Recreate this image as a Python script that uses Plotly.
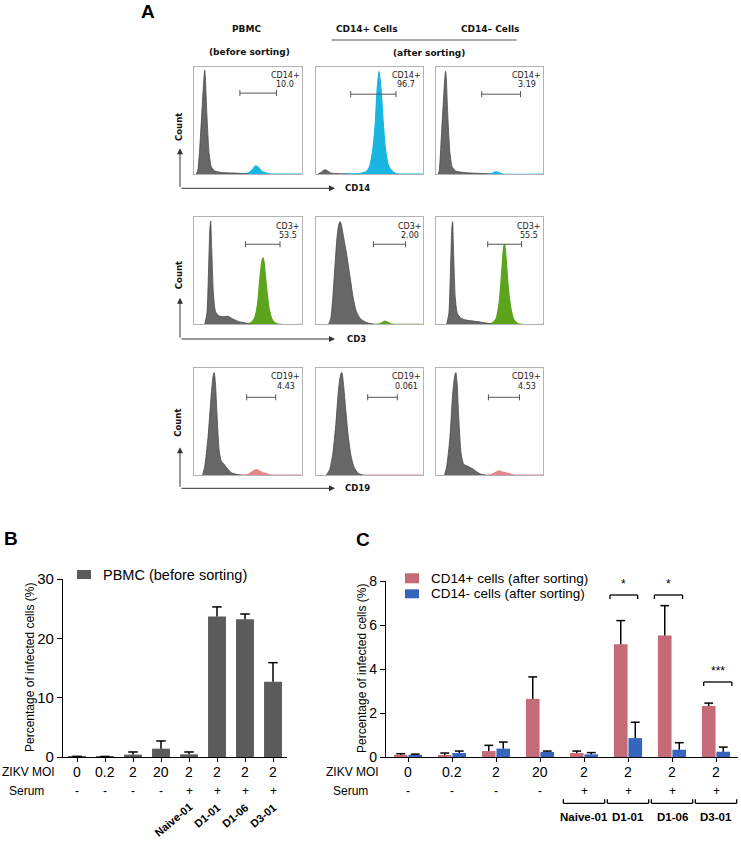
import plotly.graph_objects as go

W, H = 741, 842


def px(x):
    return x / W


def py(y):
    return 1 - y / H


# ---------------- data: panel B / C ----------------
MOI = ["0", "0.2", "2", "20", "2", "2", "2", "2"]
SERUM = ["-", "-", "-", "-", "+", "+", "+", "+"]
DONORS = ["Naive-01", "D1-01", "D1-06", "D3-01"]
DONOR_CATS = [4, 5, 6, 7]
PBMC_MEAN = [0.08, 0.06, 0.4, 1.4, 0.45, 23.7, 23.2, 12.7]
PBMC_ERR = [0.03, 0.03, 0.45, 1.3, 0.4, 1.6, 0.9, 3.2]
CD14P_MEAN = [0.1, 0.08, 0.27, 2.64, 0.18, 5.12, 5.52, 2.32]
CD14P_ERR = [0.05, 0.1, 0.26, 1.0, 0.09, 1.08, 1.36, 0.13]
CD14N_MEAN = [0.1, 0.18, 0.38, 0.23, 0.12, 0.86, 0.33, 0.24]
CD14N_ERR = [0.03, 0.09, 0.3, 0.04, 0.08, 0.72, 0.32, 0.21]
SIG_CATS = [5, 6, 7]
SIG_TEXT = ["*", "*", "***"]

# ---------------- data: panel A (histograms, normalized) ----------------
ROW_MARKERS = ["CD14", "CD3", "CD19"]
GATE_NAMES = ["CD14+", "CD3+", "CD19+"]
GATE_VALUES = [["10.0", "96.7", "3.19"], ["53.5", "2.00", "55.5"], ["4.43", "0.061", "4.53"]]

CD14_PBMC_GRAY_X = [0.02, 0.035, 0.06, 0.08, 0.095, 0.10, 0.106, 0.12, 0.14, 0.16, 0.19, 0.25, 0.35, 0.45, 0.5]
CD14_PBMC_GRAY_Y = [0, 0.03, 0.35, 0.7, 0.93, 0.97, 0.9, 0.55, 0.2, 0.07, 0.03, 0.015, 0.01, 0.005, 0]
CD14_PBMC_POS_X = [0.15, 0.45, 0.5, 0.54, 0.565, 0.58, 0.6, 0.63, 0.67, 0.72, 1.0]
CD14_PBMC_POS_Y = [0, 0, 0.008, 0.035, 0.07, 0.075, 0.06, 0.025, 0.008, 0, 0]

CD14_POS_GRAY_X = [0.02, 0.05, 0.075, 0.093, 0.11, 0.14, 0.2, 0.3]
CD14_POS_GRAY_Y = [0, 0.015, 0.035, 0.04, 0.03, 0.01, 0.004, 0]
CD14_POS_POS_X = [0.25, 0.42, 0.47, 0.5, 0.53, 0.555, 0.575, 0.592, 0.61, 0.63, 0.65, 0.68, 0.71, 0.75, 1.0]
CD14_POS_POS_Y = [0, 0.005, 0.02, 0.06, 0.2, 0.45, 0.8, 0.96, 0.8, 0.5, 0.25, 0.08, 0.03, 0.005, 0]

CD14_NEG_GRAY_X = [0.02, 0.03, 0.05, 0.07, 0.085, 0.09, 0.096, 0.11, 0.13, 0.15, 0.18, 0.25, 0.35, 0.45, 0.5]
CD14_NEG_GRAY_Y = [0, 0.03, 0.35, 0.7, 0.93, 0.96, 0.9, 0.55, 0.2, 0.07, 0.03, 0.015, 0.008, 0.004, 0]
CD14_NEG_POS_X = [0.15, 0.48, 0.52, 0.55, 0.565, 0.59, 0.63, 1.0]
CD14_NEG_POS_Y = [0, 0, 0.005, 0.018, 0.02, 0.012, 0, 0]

CD3_PBMC_GRAY_X = [0.10, 0.12, 0.135, 0.148, 0.155, 0.165, 0.18, 0.2, 0.23, 0.27, 0.317, 0.36, 0.42, 0.49, 0.53]
CD3_PBMC_GRAY_Y = [0, 0.1, 0.5, 0.9, 0.966, 0.7, 0.3, 0.12, 0.08, 0.07, 0.075, 0.05, 0.025, 0.01, 0]
CD3_PBMC_POS_X = [0.4, 0.52, 0.56, 0.59, 0.615, 0.633, 0.645, 0.66, 0.68, 0.7, 0.73, 0.77, 1.0]
CD3_PBMC_POS_Y = [0, 0.01, 0.05, 0.18, 0.45, 0.6, 0.62, 0.5, 0.3, 0.14, 0.04, 0.005, 0]

CD3_POS_GRAY_X = [0.12, 0.14, 0.16, 0.18, 0.2, 0.215, 0.228, 0.24, 0.26, 0.29, 0.32, 0.35, 0.38, 0.42, 0.48, 0.55]
CD3_POS_GRAY_Y = [0, 0.05, 0.25, 0.55, 0.82, 0.93, 0.96, 0.93, 0.82, 0.65, 0.45, 0.25, 0.12, 0.05, 0.015, 0]
CD3_POS_POS_X = [0.5, 0.6, 0.63, 0.648, 0.67, 0.7, 0.75, 1.0]
CD3_POS_POS_Y = [0, 0.005, 0.022, 0.03, 0.02, 0.005, 0, 0]

CD3_NEG_GRAY_X = [0.10, 0.12, 0.135, 0.148, 0.155, 0.165, 0.18, 0.2, 0.23, 0.28, 0.35, 0.42, 0.48, 0.52]
CD3_NEG_GRAY_Y = [0, 0.1, 0.5, 0.9, 0.96, 0.65, 0.25, 0.1, 0.06, 0.04, 0.03, 0.02, 0.01, 0]
CD3_NEG_POS_X = [0.4, 0.52, 0.56, 0.59, 0.615, 0.632, 0.642, 0.655, 0.675, 0.7, 0.73, 0.77, 1.0]
CD3_NEG_POS_Y = [0, 0.01, 0.05, 0.2, 0.5, 0.72, 0.75, 0.62, 0.35, 0.15, 0.04, 0.005, 0]

CD19_PBMC_GRAY_X = [0.08, 0.1, 0.13, 0.16, 0.178, 0.188, 0.2, 0.215, 0.235, 0.255, 0.28, 0.31, 0.35, 0.4, 0.44]
CD19_PBMC_GRAY_Y = [0, 0.08, 0.35, 0.75, 0.93, 0.96, 0.85, 0.55, 0.22, 0.13, 0.1, 0.06, 0.02, 0.005, 0]
CD19_PBMC_POS_X = [0.4, 0.5, 0.54, 0.58, 0.61, 0.64, 0.68, 0.72, 1.0]
CD19_PBMC_POS_Y = [0, 0.005, 0.03, 0.05, 0.035, 0.02, 0.01, 0, 0]

CD19_POS_GRAY_X = [0.1, 0.13, 0.16, 0.19, 0.215, 0.235, 0.245, 0.26, 0.28, 0.3, 0.33, 0.36, 0.4, 0.44]
CD19_POS_GRAY_Y = [0, 0.05, 0.2, 0.5, 0.82, 0.95, 0.96, 0.85, 0.62, 0.4, 0.18, 0.07, 0.015, 0]
CD19_POS_POS_X = [0.4, 1.0]
CD19_POS_POS_Y = [0, 0]

CD19_NEG_GRAY_X = [0.08, 0.1, 0.13, 0.155, 0.175, 0.186, 0.198, 0.212, 0.235, 0.26, 0.3, 0.34, 0.38, 0.42, 0.46]
CD19_NEG_GRAY_Y = [0, 0.08, 0.35, 0.75, 0.93, 0.96, 0.85, 0.55, 0.2, 0.1, 0.08, 0.06, 0.03, 0.008, 0]
CD19_NEG_POS_X = [0.4, 0.52, 0.56, 0.59, 0.62, 0.65, 0.7, 0.74, 1.0]
CD19_NEG_POS_Y = [0, 0.005, 0.025, 0.04, 0.028, 0.02, 0.008, 0, 0]

HIST_GRID = [
    [(CD14_PBMC_GRAY_X, CD14_PBMC_GRAY_Y, CD14_PBMC_POS_X, CD14_PBMC_POS_Y),
     (CD14_POS_GRAY_X, CD14_POS_GRAY_Y, CD14_POS_POS_X, CD14_POS_POS_Y),
     (CD14_NEG_GRAY_X, CD14_NEG_GRAY_Y, CD14_NEG_POS_X, CD14_NEG_POS_Y)],
    [(CD3_PBMC_GRAY_X, CD3_PBMC_GRAY_Y, CD3_PBMC_POS_X, CD3_PBMC_POS_Y),
     (CD3_POS_GRAY_X, CD3_POS_GRAY_Y, CD3_POS_POS_X, CD3_POS_POS_Y),
     (CD3_NEG_GRAY_X, CD3_NEG_GRAY_Y, CD3_NEG_POS_X, CD3_NEG_POS_Y)],
    [(CD19_PBMC_GRAY_X, CD19_PBMC_GRAY_Y, CD19_PBMC_POS_X, CD19_PBMC_POS_Y),
     (CD19_POS_GRAY_X, CD19_POS_GRAY_Y, CD19_POS_POS_X, CD19_POS_POS_Y),
     (CD19_NEG_GRAY_X, CD19_NEG_GRAY_Y, CD19_NEG_POS_X, CD19_NEG_POS_Y)],
]

# ---------------- styles / layout constants ----------------
ROW_COLORS = ["#1ab6e2", "#5ca41c", "#e8858a"]
GRAY_FILL = "#676767"
GRAY_LINE = "#4a4a4a"
BOX_COL_X = [(194, 301.5), (315.7, 422.7), (436, 543)]
BOX_ROW_Y = [(67, 174), (217.3, 324.3), (368.3, 475)]
GATE_POS = [[(0.427, 0.768, 0.756), (0.327, 0.75, 0.746), (0.427, 0.79, 0.746)],
            [(0.48, 0.80, 0.748), (0.54, 0.84, 0.748), (0.483, 0.80, 0.748)],
            [(0.49, 0.76, 0.728), (0.486, 0.763, 0.728), (0.49, 0.78, 0.728)]]
GATE_LABEL_X = [[0.85, 0.845, 0.85], [0.876, 0.88, 0.87], [0.854, 0.85, 0.85]]
GATE_LABEL_Y = [(0.918, 0.834), (0.913, 0.829), (0.92, 0.834)]
ROW_ARROW = [(148.3, 188.3, 127.5), (297.7, 339, 275.7), (447.3, 488.3, 423.3)]
ROW_LABEL_X = [357.5, 356.7, 357]

SANS = "Arial, Liberation Sans, sans-serif"
DJV = "DejaVu Sans, Verdana, sans-serif"

fig = go.Figure()
layout = dict(
    template="none",
    width=W, height=H, margin=dict(l=0, r=0, t=0, b=0, pad=0, autoexpand=False),
    paper_bgcolor="white", plot_bgcolor="rgba(0,0,0,0)",
    showlegend=False,
)
annotations = []
shapes = []


def ann(x, y, text, size, family=SANS, xref="paper", yref="paper", **kw):
    d = dict(xref=xref, yref=yref, x=x, y=y, text=text, showarrow=False,
             xanchor="center", yanchor="middle",
             font=dict(family=family, size=size, color=kw.pop("color", "#000")))
    d.update(kw)
    annotations.append(d)


# ---------------- Panel A ----------------
k = 0
for r in range(3):
    for c in range(3):
        k += 1
        xa = "xaxis" if k == 1 else f"xaxis{k}"
        ya = "yaxis" if k == 1 else f"yaxis{k}"
        xr = "x" if k == 1 else f"x{k}"
        yr = "y" if k == 1 else f"y{k}"
        x0, x1 = BOX_COL_X[c]
        y0, y1 = BOX_ROW_Y[r]
        box_axis = dict(range=[0, 1], showticklabels=False, ticks="", showgrid=False,
                        zeroline=False, automargin=False, showline=True, mirror=True,
                        linecolor="#b3b3b3", linewidth=1)
        layout[xa] = dict(domain=[px(x0), px(x1)], anchor=yr, **box_axis)
        layout[ya] = dict(domain=[py(y1), py(y0)], anchor=xr, **box_axis)
        gx, gy, cx, cy = HIST_GRID[r][c]
        fig.add_trace(go.Scatter(x=cx, y=cy, xaxis=xr, yaxis=yr, mode="lines",
                                 line=dict(color=ROW_COLORS[r], width=1.2, shape="spline", smoothing=0.6),
                                 fill="tozeroy", fillcolor=ROW_COLORS[r], hoverinfo="skip"))
        fig.add_trace(go.Scatter(x=gx, y=gy, xaxis=xr, yaxis=yr, mode="lines",
                                 line=dict(color=GRAY_LINE, width=0.8, shape="spline", smoothing=0.6),
                                 fill="tozeroy", fillcolor=GRAY_FILL, hoverinfo="skip"))
        gx0, gx1, gyy = GATE_POS[r][c]
        gl = dict(color="#555", width=1)
        shapes.append(dict(type="line", xref=xr, yref=yr, x0=gx0, x1=gx1, y0=gyy, y1=gyy, line=gl))
        for gxe in (gx0, gx1):
            shapes.append(dict(type="line", xref=xr, yref=yr, x0=gxe, x1=gxe,
                               y0=gyy - 0.028, y1=gyy + 0.028, line=gl))
        ann(GATE_LABEL_X[r][c], GATE_LABEL_Y[r][0], GATE_NAMES[r], 8, DJV, xref=xr, yref=yr, color="#222")
        ann(GATE_LABEL_X[r][c], GATE_LABEL_Y[r][1], GATE_VALUES[r][c], 8, DJV, xref=xr, yref=yr, color="#222")
    # axis arrows
    ytop, ybase, ycount = ROW_ARROW[r]
    annotations.append(dict(xref="paper", yref="paper", x=px(335), y=py(ybase), ax=-155, ay=0,
                            text="", showarrow=True, arrowhead=2, arrowsize=1.2, arrowwidth=1,
                            arrowcolor="#333"))
    annotations.append(dict(xref="paper", yref="paper", x=px(180), y=py(ytop), ax=0, ay=ybase - ytop,
                            text="", showarrow=True, arrowhead=2, arrowsize=1.2, arrowwidth=1,
                            arrowcolor="#333"))
    ann(px(ROW_LABEL_X[r]), py(ybase), f"<b>{ROW_MARKERS[r]}</b>", 8.5, DJV, color="#111")
    ann(px(178.5), py(ycount), "<b>Count</b>", 8.5, DJV, color="#111", textangle=-90)

# headers
for txt, x, y in [("PBMC", 246, 29.3), ("(before sorting)", 249, 51.7),
                  ("CD14+ Cells", 366.7, 29.3), ("CD14\u2013 Cells", 489.7, 29.3),
                  ("(after sorting)", 428.8, 53.3)]:
    ann(px(x), py(y), f"<b>{txt}</b>", 9, DJV, color="#111")
shapes.append(dict(type="line", xref="paper", yref="paper", x0=px(331.7), x1=px(516.7),
                   y0=py(40), y1=py(40), line=dict(color="#555", width=1)))

# panel letters
for txt, x, y in [("A", 147.5, 11), ("B", 11, 538.5), ("C", 362.5, 539)]:
    ann(px(x), py(y), f"<b>{txt}</b>", 19)

# ---------------- Panel B ----------------
xb, yb = "x10", "y10"
cats = list(range(len(MOI)))
axis_common = dict(showgrid=False, zeroline=False, showline=True, linecolor="#000", linewidth=1.3,
                   ticks="outside", tickcolor="#000", tickwidth=1.3, automargin=False)
layout["xaxis10"] = dict(domain=[px(63), px(287)], range=[-0.5, 7.5], anchor=yb,
                         tickvals=cats, showticklabels=False, ticklen=4, **axis_common)
layout["yaxis10"] = dict(domain=[py(757), py(579)], range=[0, 30], anchor=xb,
                         tickvals=[0, 10, 20, 30], ticklen=5,
                         tickfont=dict(family=SANS, size=15, color="#000"), **axis_common)
fig.add_trace(go.Bar(x=cats, y=PBMC_MEAN, width=0.64, xaxis=xb, yaxis=yb,
                     marker=dict(color="#5b5b5b", line=dict(width=0))))


def err_lines(mean, err, off, cap):
    xs, ys = [], []
    for i, (m, e) in enumerate(zip(mean, err)):
        xc = i + off
        xs += [xc, xc, None, xc - cap, xc + cap, None]
        ys += [m, m + e, None, m + e, m + e, None]
    return xs, ys


ex, ey = err_lines(PBMC_MEAN, PBMC_ERR, 0.0, 0.17)
fig.add_trace(go.Scatter(x=ex, y=ey, xaxis=xb, yaxis=yb, mode="lines",
                         line=dict(color="#000", width=1.5), hoverinfo="skip"))

for i, m in enumerate(MOI):
    ann(i, py(772), m, 14, xref=xb)
    ann(i, py(791), SERUM[i], 12, xref=xb)
for d, cidx in zip(DONORS, DONOR_CATS):
    shift = -16 if d.startswith("Naive") else -10.5
    yc = 820 if d.startswith("Naive") else 815.5
    ann(cidx, py(yc), f"<b>{d}</b>", 11, xref=xb, xshift=shift, textangle=-40)
ann(px(28), py(772), "ZIKV MOI", 12)
ann(px(26), py(791), "Serum", 12)
ann(px(30), py(668), "Percentage of infected cells (%)", 12, textangle=-90)
# legend B
shapes.append(dict(type="rect", xref="paper", yref="paper", x0=px(77), x1=px(91), y0=py(579),
                   y1=py(570), fillcolor="#5b5b5b", line=dict(width=0)))
ann(px(101), py(574.5), "PBMC (before sorting)", 14.5, xanchor="left")

# ---------------- Panel C ----------------
xc_, yc_ = "x11", "y11"
RED, BLUE = "#c56b78", "#3565bd"
layout["xaxis11"] = dict(domain=[px(386), px(738)], range=[-0.5, 7.5], anchor=yc_,
                         tickvals=cats, showticklabels=False, ticklen=4, **axis_common)
layout["yaxis11"] = dict(domain=[py(757), py(581)], range=[0, 8], anchor=xc_,
                         tickvals=[0, 2, 4, 6, 8], ticklen=5,
                         tickfont=dict(family=SANS, size=14, color="#000"), **axis_common)
OFF = 0.165
fig.add_trace(go.Bar(x=[i - OFF for i in cats], y=CD14P_MEAN, width=0.31, xaxis=xc_, yaxis=yc_,
                     marker=dict(color=RED, line=dict(width=0))))
fig.add_trace(go.Bar(x=[i + OFF for i in cats], y=CD14N_MEAN, width=0.31, xaxis=xc_, yaxis=yc_,
                     marker=dict(color=BLUE, line=dict(width=0))))
for mean, err, off in [(CD14P_MEAN, CD14P_ERR, -OFF), (CD14N_MEAN, CD14N_ERR, OFF)]:
    ex, ey = err_lines(mean, err, off, 0.1)
    fig.add_trace(go.Scatter(x=ex, y=ey, xaxis=xc_, yaxis=yc_, mode="lines",
                             line=dict(color="#000", width=1.5), hoverinfo="skip"))

for i, m in enumerate(MOI):
    ann(i, py(772), m, 14, xref=xc_)
    ann(i, py(791), SERUM[i], 12, xref=xc_)
ann(px(352), py(772), "ZIKV MOI", 12)
ann(px(350), py(791), "Serum", 12)
ann(px(362), py(669), "Percentage of infected cells (%)", 12, textangle=-90)
# donor group brackets
bl = dict(color="#000", width=1.3)
for d, cidx in zip(DONORS, DONOR_CATS):
    shapes.append(dict(type="line", xref=xc_, yref="paper", x0=cidx - 0.47, x1=cidx + 0.47,
                       y0=py(803.3), y1=py(803.3), line=bl))
    for xe in (cidx - 0.47, cidx + 0.47):
        shapes.append(dict(type="line", xref=xc_, yref="paper", x0=xe, x1=xe,
                           y0=py(803.3), y1=py(799.3), line=bl))
    ann(cidx, py(817.3), f"<b>{d}</b>", 11.5, xref=xc_)
# significance brackets
SIG_SPAN = [(-0.41, 0.22, 595), (-0.40, 0.24, 595), (-0.28, 0.36, 682)]
for s, cidx, (a, b, yy) in zip(SIG_TEXT, SIG_CATS, SIG_SPAN):
    shapes.append(dict(type="line", xref=xc_, yref="paper", x0=cidx + a, x1=cidx + b,
                       y0=py(yy), y1=py(yy), line=bl))
    for xe in (cidx + a, cidx + b):
        shapes.append(dict(type="line", xref=xc_, yref="paper", x0=xe, x1=xe,
                           y0=py(yy), y1=py(yy + 4), line=bl))
    ann(cidx + (a + b) / 2, py(yy - 2), s, 12, xref=xc_, yanchor="bottom")
# legend C
shapes.append(dict(type="rect", xref="paper", yref="paper", x0=px(405), x1=px(419), y0=py(583.3),
                   y1=py(573.3), fillcolor=RED, line=dict(width=0)))
shapes.append(dict(type="rect", xref="paper", yref="paper", x0=px(405), x1=px(419), y0=py(598.3),
                   y1=py(589.3), fillcolor=BLUE, line=dict(width=0)))
ann(px(429), py(578), "CD14+ cells (after sorting)", 13.5, xanchor="left")
ann(px(429), py(593.5), "CD14- cells (after sorting)", 13.5, xanchor="left")

layout["annotations"] = annotations
layout["shapes"] = shapes
fig.update_layout(**layout)
fig.write_html("out.html", config={"displayModeBar": False},
               post_script="document.body.style.margin='0';")
